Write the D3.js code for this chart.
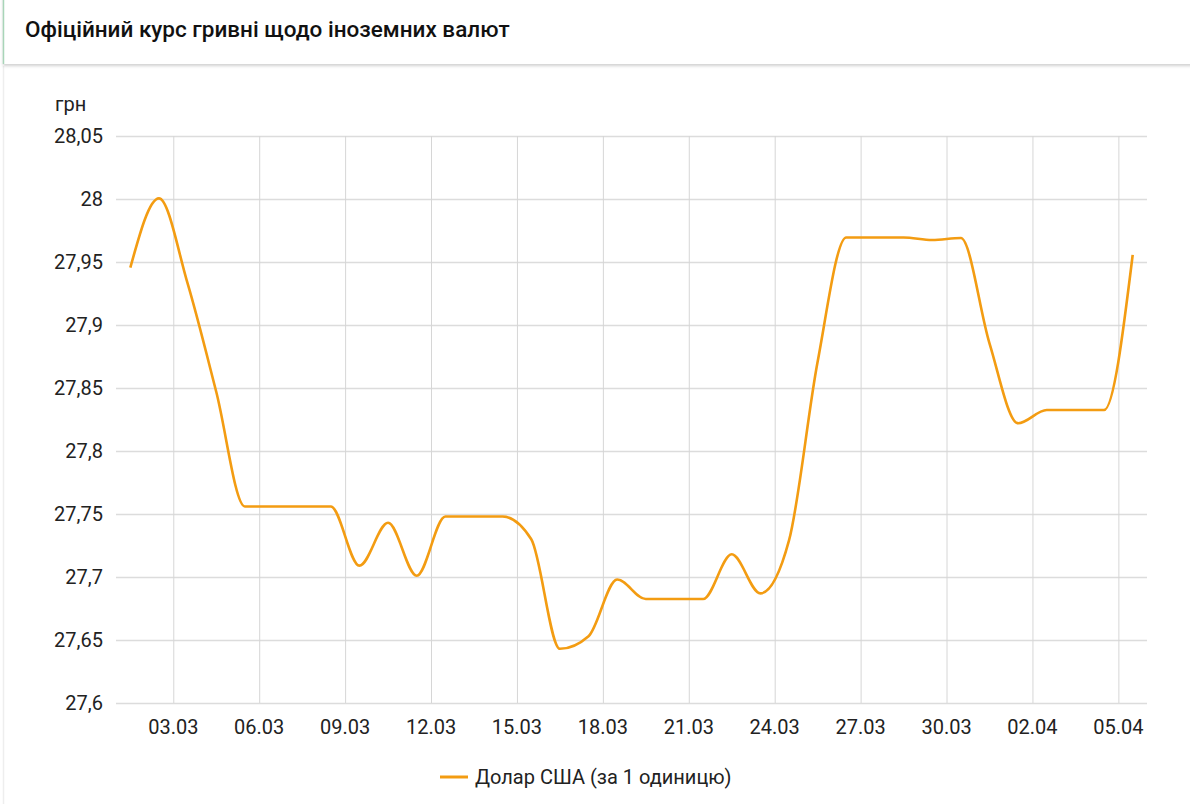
<!DOCTYPE html>
<html>
<head>
<meta charset="utf-8">
<script src="https://cdn.jsdelivr.net/npm/d3@7"></script>
<style>
html,body{margin:0;padding:0;background:#fff;overflow:hidden;}
svg{display:block;font-family:Roboto,"Noto Sans",sans-serif;}
</style>
</head>
<body>
<svg id="chart" width="1190" height="804"></svg>
<script>
const title = "Офіційний курс гривні щодо іноземних валют";
const unitLabel = "грн";
const seriesName = "Долар США (за 1 одиницю)";
const dates = ["2021-03-01","2021-03-02","2021-03-03","2021-03-04","2021-03-05","2021-03-06","2021-03-07","2021-03-08","2021-03-09","2021-03-10","2021-03-11","2021-03-12","2021-03-13","2021-03-14","2021-03-15","2021-03-16","2021-03-17","2021-03-18","2021-03-19","2021-03-20","2021-03-21","2021-03-22","2021-03-23","2021-03-24","2021-03-25","2021-03-26","2021-03-27","2021-03-28","2021-03-29","2021-03-30","2021-03-31","2021-04-01","2021-04-02","2021-04-03","2021-04-04","2021-04-05"];
const usdValues = [27.9455,28.0005,27.933,27.847,27.756,27.756,27.756,27.756,27.709,27.743,27.701,27.748,27.748,27.748,27.730,27.643,27.653,27.698,27.6825,27.6825,27.6825,27.718,27.687,27.729,27.871,27.9695,27.9695,27.9695,27.9675,27.969,27.8855,27.822,27.8325,27.8325,27.8325,27.9556];
const yTicks = [27.6,27.65,27.7,27.75,27.8,27.85,27.9,27.95,28,28.05];
const xTickDates = ["2021-03-03","2021-03-06","2021-03-09","2021-03-12","2021-03-15","2021-03-18","2021-03-21","2021-03-24","2021-03-27","2021-03-30","2021-04-02","2021-04-05"];

const parse = d3.timeParse("%Y-%m-%d");
const data = dates.map((d,i)=>({date: d3.timeHour.offset(parse(d),12), value: usdValues[i]}));

const svg = d3.select("#chart");
const W = 1190, H = 804;
const m = {left:116, right:1147, top:136, bottom:703};

// header card
const defs = svg.append("defs");
const f = defs.append("filter").attr("id","sh").attr("x","-5%").attr("y","-20%").attr("width","110%").attr("height","160%");
f.append("feDropShadow").attr("dx",0).attr("dy",2).attr("stdDeviation",1.6).attr("flood-color","#000").attr("flood-opacity",0.18);
svg.append("rect").attr("x",3).attr("y",64).attr("width",W).attr("height",H).attr("fill","#fff");
svg.append("line").attr("x1",3.5).attr("x2",3.5).attr("y1",66).attr("y2",H).attr("stroke","#eeeeee").attr("stroke-width",1.5);
svg.append("rect").attr("x",3).attr("y",-5).attr("width",W+10).attr("height",69).attr("fill","#fff").attr("filter","url(#sh)");
svg.append("line").attr("x1",3.5).attr("x2",3.5).attr("y1",0).attr("y2",64).attr("stroke","#a8d5b8").attr("stroke-width",1.5);
svg.append("text").attr("x",25).attr("y",37).attr("font-size",22.5).attr("font-weight",500).attr("fill","#111").text(title);

const x = d3.scaleTime().domain([parse("2021-03-01"), parse("2021-04-06")]).range([m.left, m.right]);
const y = d3.scaleLinear().domain([27.6, 28.05]).range([m.bottom, m.top]);

// horizontal grid
svg.append("g").attr("transform",`translate(${m.left},0)`)
  .call(d3.axisLeft(y).tickValues(yTicks).tickSize(-(m.right-m.left)).tickFormat(""))
  .call(g=>g.select(".domain").remove())
  .call(g=>g.selectAll("line").attr("stroke","#dcdcdc").attr("stroke-width",1.3));

// vertical grid
svg.append("g").attr("transform",`translate(0,${m.bottom})`)
  .call(d3.axisBottom(x).tickValues(xTickDates.map(parse)).tickSize(-(m.bottom-m.top)).tickFormat(""))
  .call(g=>g.select(".domain").remove())
  .call(g=>g.selectAll("line").attr("stroke","#d6d6d6").attr("stroke-width",1));

// y labels
const fmt = v => String(+v.toFixed(2)).replace(".",",");
svg.append("g").selectAll("text").data(yTicks).join("text")
  .attr("x",103).attr("y",d=>y(d)+7).attr("text-anchor","end")
  .attr("font-size",20).attr("fill","#222").text(fmt);
svg.append("text").attr("x",55).attr("y",111).attr("font-size",20).attr("fill","#222").text(unitLabel);

// x labels
const xf = d3.timeFormat("%d.%m");
svg.append("g").selectAll("text").data(xTickDates.map(parse)).join("text")
  .attr("x",d=>x(d)).attr("y",734).attr("text-anchor","middle")
  .attr("font-size",20).attr("fill","#222").text(xf);

// line
const line = d3.line().x(d=>x(d.date)).y(d=>y(d.value)).curve(d3.curveMonotoneX);
svg.append("path").datum(data).attr("d",line).attr("fill","none")
  .attr("stroke","#f39c12").attr("stroke-width",2.6).attr("stroke-linejoin","round");

// legend
svg.append("line").attr("x1",440).attr("x2",468).attr("y1",777).attr("y2",777).attr("stroke","#f39c12").attr("stroke-width",3);
svg.append("text").attr("x",475).attr("y",784).attr("font-size",20).attr("fill","#222").text(seriesName);
</script>
</body>
</html>
